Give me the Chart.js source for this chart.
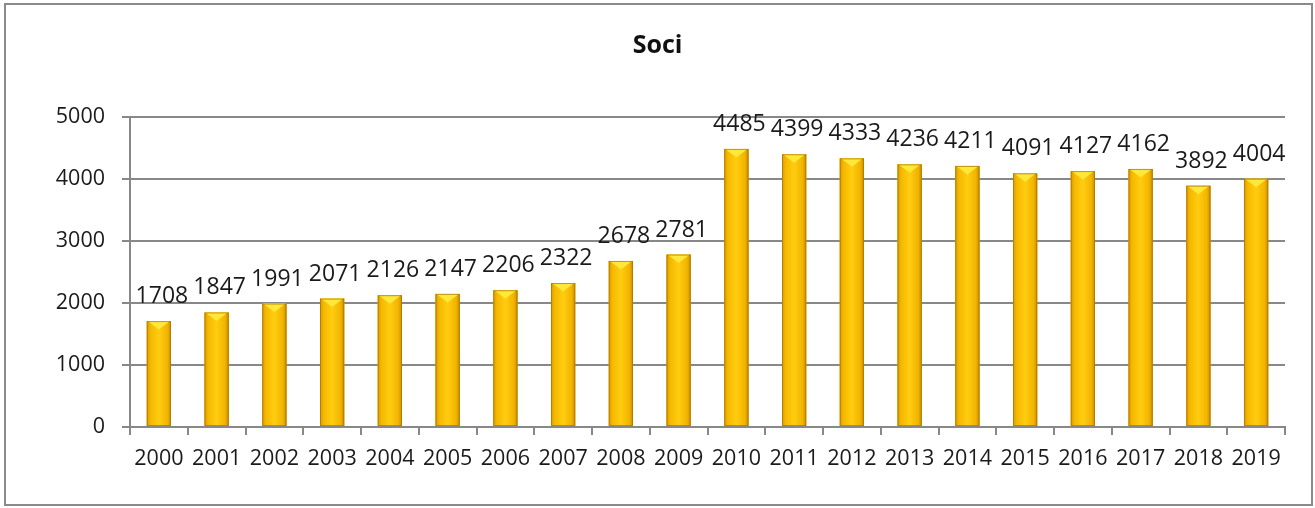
<!DOCTYPE html>
<html>
<head>
<meta charset="utf-8">
<script src="https://cdn.jsdelivr.net/npm/chart.js@4/dist/chart.umd.min.js"></script>
<style>
  html, body { margin: 0; padding: 0; background: #fff; }
  #wrap { width: 1315px; height: 508px; position: relative; }
</style>
</head>
<body>
<div id="wrap"><canvas id="sociChart" width="1315" height="508"></canvas></div>
<script>
// dati
const years = ["2000", "2001", "2002", "2003", "2004", "2005", "2006", "2007", "2008", "2009",
  "2010", "2011", "2012", "2013", "2014", "2015", "2016", "2017", "2018", "2019"];
const soci = [1708, 1847, 1991, 2071, 2126, 2147, 2206, 2322, 2678, 2781,
  4485, 4399, 4333, 4236, 4211, 4091, 4127, 4162, 3892, 4004];
const yTicks = [0, 1000, 2000, 3000, 4000, 5000];

const FONT = "'Open Sans', 'Liberation Sans', sans-serif";

// cornice esterna grigia
const framePlugin = {
  id: "frame",
  beforeDraw(chart) {
    const c = chart.ctx;
    c.save();
    c.fillStyle = "#fff";
    c.fillRect(0, 0, chart.width, chart.height);
    c.strokeStyle = "#8a8a8a";
    c.lineWidth = 2;
    c.strokeRect(5, 4, 1307, 501);
    c.restore();
  }
};

// barre "3D" dorate + etichette dei valori
const barLook = {
  id: "barLook",
  afterDatasetsDraw(chart) {
    const c = chart.ctx;
    const meta = chart.getDatasetMeta(0);
    meta.data.forEach((bar, i) => {
      const { x, y, base, width } = bar.getProps(["x", "y", "base", "width"], true);
      const l = x - width / 2, r = x + width / 2;
      c.save();
      const g = c.createLinearGradient(l, 0, r, 0);
      g.addColorStop(0, "#d99a00");
      g.addColorStop(0.15, "#f5b800");
      g.addColorStop(0.5, "#ffcd10");
      g.addColorStop(0.85, "#f2b400");
      g.addColorStop(1, "#c98c00");
      c.fillStyle = g;
      c.fillRect(l, y, width, base - y);
      // punta chiara in alto
      c.fillStyle = "#ffe83a";
      c.beginPath();
      c.moveTo(l + 1, y);
      c.lineTo(r - 1, y);
      c.lineTo(x, y + width * 0.35);
      c.closePath();
      c.fill();
      c.strokeStyle = "rgba(170,115,0,0.7)";
      c.lineWidth = 1;
      c.strokeRect(l + 0.5, y + 0.5, width - 1, base - y - 1);
      // etichetta
      c.fillStyle = "#1a1a1a";
      c.font = "23px " + FONT;
      c.textAlign = "center";
      c.textBaseline = "alphabetic";
      c.fillText(String(soci[i]), x + 3, y - 18);
      c.restore();
    });
  }
};

new Chart(document.getElementById("sociChart"), {
  type: "bar",
  data: {
    labels: years,
    datasets: [{
      label: "Soci",
      data: soci,
      backgroundColor: "#ffc000",
      barPercentage: 0.42,
      categoryPercentage: 1
    }]
  },
  options: {
    responsive: false,
    animation: false,
    layout: { padding: 0 },
    plugins: {
      legend: { display: false },
      tooltip: { enabled: false },
      title: {
        display: true,
        text: "Soci",
        color: "#111",
        font: { family: FONT, size: 25, weight: "bold" },
        padding: { top: 31, bottom: 56 }
      }
    },
    scales: {
      x: {
        grid: {
          offset: true,
          drawOnChartArea: false,
          color: "#888",
          lineWidth: 2,
          tickLength: 8
        },
        border: { color: "#888", width: 2 },
        ticks: {
          color: "#1a1a1a",
          font: { family: FONT, size: 21.5 },
          padding: 11,
          maxRotation: 0,
          autoSkip: false
        },
        afterFit(scale) { scale.height = 81; }
      },
      y: {
        min: 0,
        max: 5000,
        afterBuildTicks(scale) { scale.ticks = yTicks.map(v => ({ value: v })); },
        grid: {
          color: "#888",
          lineWidth: 2,
          tickLength: 8
        },
        border: { color: "#888", width: 2 },
        ticks: {
          color: "#1a1a1a",
          font: { family: FONT, size: 21.5 },
          padding: 17,
          callback: v => String(v)
        },
        afterFit(scale) { scale.width = 130; }
      },
      // margine destro vuoto, così il titolo resta centrato sulla pagina
      spazio: {
        position: "right",
        grid: { display: false },
        border: { display: false },
        ticks: { display: false },
        afterFit(scale) { scale.width = 30; }
      }
    }
  },
  plugins: [framePlugin, barLook]
});
</script>
</body>
</html>
